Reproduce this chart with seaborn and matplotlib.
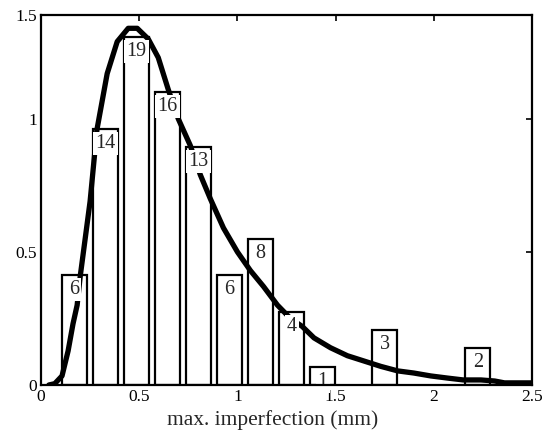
import matplotlib
matplotlib.use("Agg")
import matplotlib.pyplot as plt
import seaborn as sns
import numpy as np
import pandas as pd

# ---- data ----
bin_centers = [0.17, 0.328, 0.486, 0.644, 0.802, 0.96, 1.118, 1.276, 1.434, 1.75, 2.224]
bar_heights = [0.413, 0.963, 1.307, 1.101, 0.894, 0.413, 0.550, 0.275, 0.069, 0.206, 0.138]
bar_counts = [6, 14, 19, 16, 13, 6, 8, 4, 1, 3, 2]

curve_x = [0.04, 0.07, 0.107, 0.138, 0.163, 0.184, 0.2, 0.25, 0.285, 0.337, 0.388,
           0.444, 0.49, 0.546, 0.597, 0.648, 0.699, 0.76, 0.811, 0.862, 0.929,
           1.0, 1.066, 1.133, 1.204, 1.27, 1.33, 1.39, 1.474, 1.56, 1.645, 1.73,
           1.816, 1.898, 1.985, 2.07, 2.15, 2.24, 2.31, 2.36, 2.5]
curve_y = [0.0, 0.005, 0.034, 0.128, 0.23, 0.30, 0.41, 0.69, 0.96, 1.17, 1.29,
           1.34, 1.34, 1.30, 1.23, 1.11, 1.0, 0.90, 0.79, 0.70, 0.59,
           0.50, 0.43, 0.37, 0.30, 0.25, 0.22, 0.177, 0.14, 0.11, 0.09, 0.07,
           0.053, 0.045, 0.034, 0.026, 0.019, 0.019, 0.015, 0.008, 0.008]

x_ticks = [0, 0.5, 1, 1.5, 2, 2.5]
x_tick_labels = ["0", "0.5", "1", "1.5", "2", "2.5"]
y_ticks = [0, 0.5, 1, 1.39]
y_tick_labels = ["0", "0.5", "1", "1.5"]
x_label = "max. imperfection (mm)"

# ---- style ----
sns.set_style("white")
plt.rcParams["font.family"] = ["Liberation Serif", "DejaVu Serif"]

fig = plt.figure(figsize=(5.45, 4.34), dpi=100)
ax = fig.add_axes([41 / 545, 1 - 385 / 434, (532 - 41) / 545, (385 - 15) / 434])

bars_df = pd.DataFrame({"x": bin_centers, "h": bar_heights})
sns.barplot(data=bars_df, x="x", y="h", native_scale=True, width=0.8,
            color="white", saturation=1, edgecolor="black", linewidth=1.6,
            errorbar=None, ax=ax, zorder=1)

curve_df = pd.DataFrame({"x": curve_x, "y": curve_y})
sns.lineplot(data=curve_df, x="x", y="y", sort=False, color="black",
             linewidth=3.8, ax=ax, zorder=2, solid_capstyle="round",
             solid_joinstyle="round")

for xc, h, c in zip(bin_centers, bar_heights, bar_counts):
    t = ax.annotate(str(c), xy=(xc, h), xytext=(0, -10.5), textcoords="offset points",
                    ha="center", va="center", fontsize=14.5, zorder=2.2,
                    bbox=dict(boxstyle="square,pad=0.1", facecolor="white",
                              edgecolor="none"))
    t.set_clip_on(True)

ax.set_xlim(0, 2.5)
ax.set_ylim(0, 1.39)
ax.set_xticks(x_ticks)
ax.set_xticklabels(x_tick_labels)
ax.set_yticks(y_ticks)
ax.set_yticklabels(y_tick_labels)
ax.set_xlabel(x_label, fontsize=15.5)
ax.xaxis.set_label_coords(0.4715, -0.068)
ax.set_ylabel("")

ax.tick_params(direction="in", length=4, width=1.2, top=True, right=True,
               labelsize=12.5, colors="black")
ax.tick_params(axis="x", pad=3)
ax.tick_params(axis="y", pad=3)
for s in ax.spines.values():
    s.set_visible(True)
    s.set_color("black")
    s.set_linewidth(1.6)
ax.grid(False)

fig.savefig("out.png", dpi=100)
